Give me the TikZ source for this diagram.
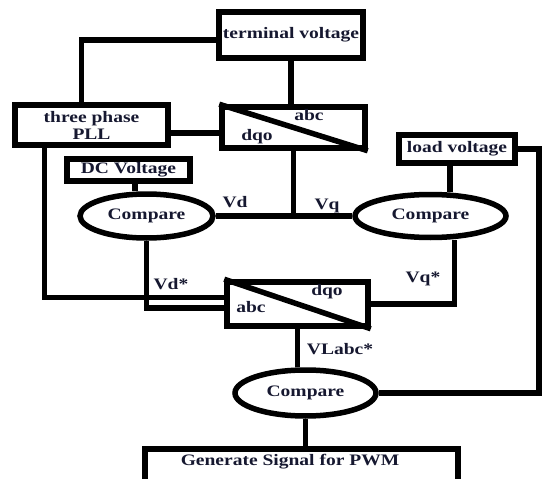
\documentclass[tikz,border=0pt]{standalone}
\usepackage{fontspec}
\setmainfont{Liberation Serif}[FakeStretch=1.22]
\usepackage{tikz}
\usetikzlibrary{shapes.geometric}

\definecolor{ink}{RGB}{22,24,48}

\tikzset{
    blk/.style={shape=rectangle, draw, inner sep=0pt},
    cmp/.style={shape=ellipse, draw, inner sep=0pt},
    lbl/.style={inner sep=0pt}
}

\begin{document}
\begin{tikzpicture}[line width=5.5pt, font=\fontsize{16}{17}\selectfont\bfseries, text=ink]
    \clip (0pt, 0pt) rectangle (542pt, -479pt);

    \node at (291pt, -35pt) (TV) [blk, minimum width=144pt, minimum height=46pt] {terminal voltage};
    \node at (91.5pt, -125pt) (PLL) [blk, minimum width=153pt, minimum height=40pt, align=center] {three phase\\PLL};
    \node at (293.5pt, -127.5pt) (T1) [blk, minimum width=143pt, minimum height=41pt] {};
    \node at (128.5pt, -170pt) (DC) [blk, minimum width=123pt, minimum height=22pt] {DC Voltage};
    \node at (457pt, -149pt) (LV) [blk, minimum width=116pt, minimum height=28pt] {load voltage};

    \node at (146.5pt, -216pt) (C1) [cmp, minimum width=133pt, minimum height=44pt] {Compare};
    \node at (430.5pt, -216pt) (C2) [cmp, minimum width=151pt, minimum height=43pt] {Compare};

    \node at (297.5pt, -304pt) (T2) [blk, minimum width=141pt, minimum height=44pt] {};
    \node at (305.5pt, -393pt) (C3) [cmp, minimum width=141pt, minimum height=46pt] {Compare};
    \node at (301.5pt, -474pt) (GS) [blk, minimum width=313pt, minimum height=50pt] {};

    % converter blocks
    \draw (T1.north west) -- (T1.south east);
    \draw (T2.north west) -- (T2.south east);
    \node at (309pt, -115pt) (T1abc) [lbl] {abc};
    \node at (257pt, -137pt) (T1dqo) [lbl] {dqo};
    \node at (251pt, -307pt) (T2abc) [lbl] {abc};
    \node at (327pt, -292pt) (T2dqo) [lbl] {dqo};
    \node at (290pt, -462pt) (GStxt) [lbl] {Generate Signal for PWM};

    % signal names
    \node at (235pt, -202pt) (Vd) [lbl] {Vd};
    \node at (327pt, -206pt) (Vq) [lbl] {Vq};
    \node at (171pt, -284pt) (Vds) [lbl] {Vd*};
    \node at (423pt, -279pt) (Vqs) [lbl] {Vq*};
    \node at (340pt, -349pt) (VL) [lbl] {VLabc*};

    \coordinate (RE) at (539pt, -149pt);

    \draw ([yshift=-5pt]TV.west) -| ([xshift=-10pt]PLL.north);
    \draw (TV.south) -- (TV.south |- T1.north);
    \draw ([yshift=-8pt]PLL.east) -- ([yshift=-8pt]PLL.east -| T1.west);
    \draw (C1.east) -- (C2.west);
    \draw (T1.south) -- (T1.south |- C1.east);
    \draw ([xshift=6.5pt]DC.south) -- ([xshift=6.5pt]DC.south |- C1.north);
    \draw ([xshift=-7pt]LV.south) -- ([xshift=-7pt]LV.south |- C2.north);
    \draw (LV.east) -- (RE) |- (C3.east);
    \draw ([xshift=24pt]C2.south) |- (T2.east);
    \draw ([xshift=-47pt]PLL.south) |- ([yshift=6.5pt]T2.west);
    \draw (C1.south) |- ([yshift=-4pt]T2.west);
    \draw (T2.south) -- (T2.south |- C3.north);
    \draw (C3.south) -- (C3.south |- GS.north);

\end{tikzpicture}
\end{document}
